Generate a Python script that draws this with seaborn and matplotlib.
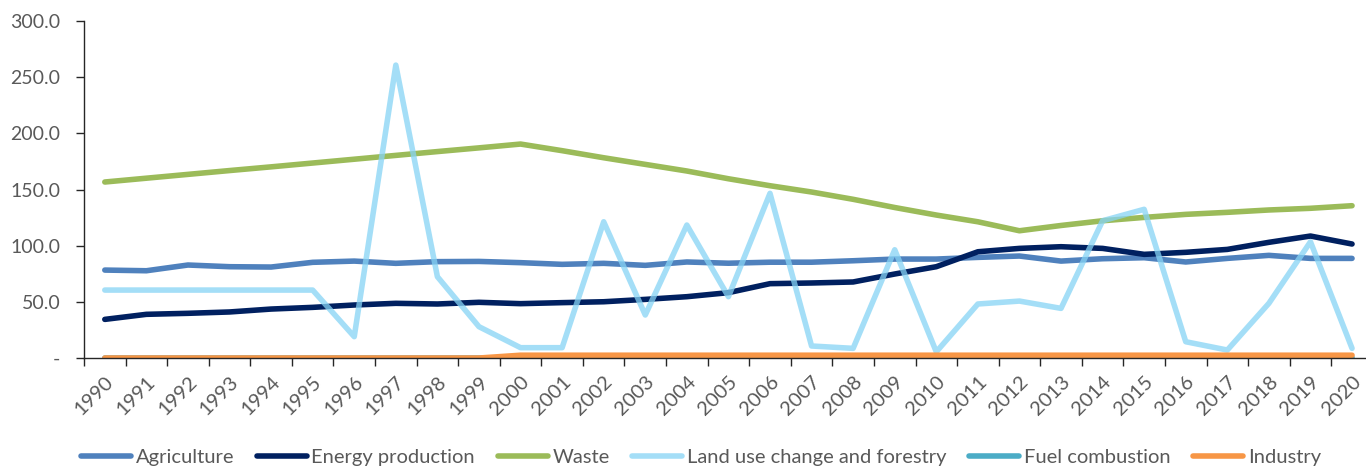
import numpy as np
import pandas as pd
import seaborn as sns
import matplotlib
matplotlib.use("Agg")
import matplotlib.pyplot as plt
from matplotlib.ticker import FixedLocator, FuncFormatter
from matplotlib.lines import Line2D

years = list(range(1990, 2021))

agriculture = [78.3, 77.7, 82.8, 81.3, 81.0, 85.2, 86.3, 84.3, 85.8, 86.0,
               84.9, 83.4, 84.3, 82.5, 85.5, 84.4, 85.3, 85.3, 86.6, 88.1,
               88.1, 89.6, 90.8, 86.3, 88.4, 89.3, 85.5, 88.7, 91.4, 88.7, 88.7]
energy_production = [34.4, 38.9, 39.8, 41.0, 43.6, 45.1, 47.2, 48.7, 48.1, 49.6,
                     48.4, 49.3, 50.1, 52.2, 54.6, 58.2, 66.2, 66.8, 67.7, 74.8,
                     81.3, 94.6, 97.6, 99.1, 97.6, 92.3, 94.1, 96.7, 103.0, 108.6, 101.5]
waste = [156.7, 160.1, 163.5, 166.9, 170.2, 173.6, 177.0, 180.4, 183.8, 187.1,
         190.5, 184.6, 178.3, 172.4, 166.5, 159.6, 153.4, 147.8, 141.3, 134.0,
         127.3, 121.3, 113.3, 118.0, 122.2, 125.2, 127.9, 129.7, 131.8, 133.3, 135.6]
land_use = [60.5, 60.5, 60.5, 60.5, 60.5, 60.5, 19.0, 260.8, 72.4, 27.9,
            9.2, 9.2, 121.3, 38.3, 118.4, 54.6, 146.6, 10.7, 8.6, 96.4,
            5.5, 48.1, 50.7, 44.2, 122.2, 132.4, 14.5, 7.1, 48.7, 103.5, 8.6]
fuel_combustion = [0.0] * 10 + [0.4] * 21
industry = [0.0] * 10 + [2.5] * 21

series = {
    "Agriculture": agriculture,
    "Energy production": energy_production,
    "Waste": waste,
    "Land use change and forestry": land_use,
    "Fuel combustion": fuel_combustion,
    "Industry": industry,
}
colors = {
    "Agriculture": "#4f81bd",
    "Energy production": "#002060",
    "Waste": "#9bbb59",
    "Land use change and forestry": "#86d4f5",
    "Fuel combustion": "#4bacc6",
    "Industry": "#f79646",
}
alphas = {"Land use change and forestry": 0.75}

df = pd.DataFrame(
    [(name, y, v) for name, vals in series.items() for y, v in zip(years, vals)],
    columns=["series", "year", "value"],
)

sns.set_theme(style="white")
plt.rcParams["font.family"] = ["Lato", "DejaVu Sans"]
text_color = "#595959"

fig = plt.figure(figsize=(13.66, 4.68), dpi=100)
ax = fig.add_axes([0.0615, 0.235, 0.9435, 0.72])

lw = 4.0
for name in series:
    sub = df[df["series"] == name]
    sns.lineplot(data=sub, x="year", y="value", color=colors[name],
                 alpha=alphas.get(name, 1.0), lw=lw, ax=ax,
                 solid_capstyle="round", solid_joinstyle="round",
                 legend=False, errorbar=None)

ax.set_xlim(years[0] - 0.5, years[-1] + 0.5)
ax.set_ylim(0, 300)
ax.set_xlabel("")
ax.set_ylabel("")

ax.set_yticks(np.arange(0, 301, 50))
ax.yaxis.set_major_formatter(FuncFormatter(lambda v, p: "-" if v == 0 else f"{v:.1f}"))
ax.tick_params(axis="y", direction="out", length=6, width=1, color="#262626",
               labelsize=14, labelcolor=text_color, pad=11, left=True)

ax.set_xticks(years)
ax.set_xticklabels([str(y) for y in years], rotation=45, ha="right",
                   rotation_mode="anchor")
ax.xaxis.set_minor_locator(FixedLocator(np.arange(years[0] - 0.5, years[-1] + 1, 1)))
ax.tick_params(axis="x", which="major", length=0, labelsize=14.5,
               labelcolor=text_color, pad=11)
ax.tick_params(axis="x", which="minor", direction="out", length=6, width=1,
               color="#262626", bottom=True)

for side in ["top", "right"]:
    ax.spines[side].set_visible(False)
for side in ["left", "bottom"]:
    ax.spines[side].set_color("#262626")
    ax.spines[side].set_linewidth(1.0)
ax.grid(False)

handles = [Line2D([0], [0], color=colors[n], lw=lw, alpha=alphas.get(n, 1.0),
                  solid_capstyle="round") for n in series]
fig.legend(handles, list(series.keys()), loc="center",
           bbox_to_anchor=(0.513, 0.022), ncol=6, frameon=False,
           fontsize=14.5, labelcolor=text_color, handlelength=2.5,
           handletextpad=0.22, columnspacing=1.12, borderaxespad=0)

fig.savefig("out.png", dpi=100)
